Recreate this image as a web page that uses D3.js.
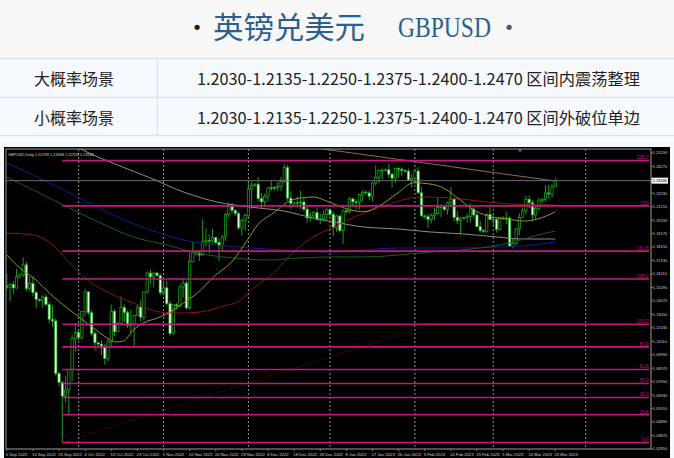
<!DOCTYPE html>
<html><head><meta charset="utf-8">
<script src="https://cdn.jsdelivr.net/npm/d3@7"></script>
<style>html,body{margin:0;padding:0;background:#f6f9fe;overflow:hidden}svg{display:block}</style>
</head><body>
<svg id="c" width="674" height="458"></svg>
<script>
// ---------- data ----------
const titleCN = "英镑兑美元";
const titleEN = "GBPUSD";
const scenarioNames = ["大概率场景", "小概率场景"];
const scenarioTexts = [
  "1.2030-1.2135-1.2250-1.2375-1.2400-1.2470 区间内震荡整理",
  "1.2030-1.2135-1.2250-1.2375-1.2400-1.2470 区间外破位单边"
];
const symbolLabel = "GBPUSD,Daily";

// [date, open, high, low, close]
const candles = [
["2022-09-06",1.1520,1.1612,1.1494,1.1512],["2022-09-07",1.1512,1.1540,1.1406,1.1532],["2022-09-08",1.1532,1.1560,1.1460,1.1505],
["2022-09-09",1.1505,1.1650,1.1500,1.1589],["2022-09-11",1.1589,1.1612,1.1580,1.1605],["2022-09-12",1.1605,1.1738,1.1590,1.1680],
["2022-09-13",1.1680,1.1700,1.1478,1.1500],["2022-09-14",1.1500,1.1590,1.1480,1.1540],["2022-09-15",1.1540,1.1590,1.1445,1.1470],
["2022-09-16",1.1470,1.1480,1.1351,1.1418],["2022-09-18",1.1418,1.1425,1.1400,1.1410],["2022-09-19",1.1410,1.1450,1.1355,1.1437],
["2022-09-20",1.1437,1.1455,1.1370,1.1380],["2022-09-21",1.1380,1.1400,1.1235,1.1268],["2022-09-22",1.1268,1.1370,1.1212,1.1255],
["2022-09-23",1.1255,1.1275,1.0840,1.0858],["2022-09-25",1.0858,1.0870,1.0760,1.0790],["2022-09-26",1.0790,1.0800,1.0333,1.0686],
["2022-09-27",1.0686,1.0840,1.0640,1.0733],["2022-09-28",1.0733,1.0890,1.0539,1.0889],["2022-09-29",1.0889,1.1150,1.0800,1.1120],
["2022-09-30",1.1120,1.1240,1.1020,1.1167],["2022-10-02",1.1167,1.1180,1.1110,1.1130],["2022-10-03",1.1130,1.1330,1.1110,1.1327],
["2022-10-04",1.1327,1.1495,1.1290,1.1476],["2022-10-05",1.1476,1.1480,1.1300,1.1317],["2022-10-06",1.1317,1.1340,1.1140,1.1160],
["2022-10-07",1.1160,1.1180,1.1030,1.1090],["2022-10-09",1.1090,1.1095,1.1060,1.1080],["2022-10-10",1.1080,1.1110,1.0998,1.1056],
["2022-10-11",1.1056,1.1080,1.0924,1.0971],["2022-10-12",1.0971,1.1120,1.0950,1.1097],["2022-10-13",1.1097,1.1380,1.1060,1.1329],
["2022-10-14",1.1329,1.1345,1.1140,1.1173],["2022-10-16",1.1173,1.1250,1.1170,1.1235],["2022-10-17",1.1235,1.1440,1.1220,1.1358],
["2022-10-18",1.1358,1.1380,1.1250,1.1318],["2022-10-19",1.1318,1.1340,1.1200,1.1221],["2022-10-20",1.1221,1.1340,1.1160,1.1233],
["2022-10-21",1.1233,1.1300,1.1060,1.1296],["2022-10-23",1.1296,1.1380,1.1290,1.1360],["2022-10-24",1.1360,1.1410,1.1250,1.1284],
["2022-10-25",1.1284,1.1480,1.1260,1.1475],["2022-10-26",1.1475,1.1630,1.1460,1.1618],["2022-10-27",1.1618,1.1645,1.1540,1.1588],
["2022-10-28",1.1588,1.1620,1.1510,1.1618],["2022-10-30",1.1618,1.1625,1.1590,1.1600],["2022-10-31",1.1600,1.1610,1.1450,1.1469],
["2022-11-01",1.1469,1.1560,1.1450,1.1506],["2022-11-02",1.1506,1.1560,1.1370,1.1386],["2022-11-03",1.1386,1.1410,1.1142,1.1160],
["2022-11-04",1.1160,1.1380,1.1150,1.1378],["2022-11-06",1.1378,1.1390,1.1340,1.1370],["2022-11-07",1.1370,1.1530,1.1360,1.1513],
["2022-11-08",1.1513,1.1580,1.1430,1.1542],["2022-11-09",1.1542,1.1560,1.1340,1.1354],["2022-11-10",1.1354,1.1775,1.1340,1.1706],
["2022-11-11",1.1706,1.1855,1.1700,1.1776],["2022-11-13",1.1776,1.1790,1.1750,1.1770],["2022-11-14",1.1770,1.1790,1.1710,1.1755],
["2022-11-15",1.1755,1.2028,1.1750,1.1855],["2022-11-16",1.1855,1.1955,1.1820,1.1866],["2022-11-17",1.1866,1.1910,1.1765,1.1865],
["2022-11-18",1.1865,1.1950,1.1850,1.1887],["2022-11-20",1.1887,1.1890,1.1840,1.1850],["2022-11-21",1.1850,1.1880,1.1710,1.1825],
["2022-11-22",1.1825,1.1905,1.1780,1.1890],["2022-11-23",1.1890,1.2075,1.1860,1.2060],["2022-11-24",1.2060,1.2154,1.2040,1.2120],
["2022-11-25",1.2120,1.2150,1.2070,1.2094],["2022-11-27",1.2094,1.2100,1.2050,1.2070],["2022-11-28",1.2070,1.2080,1.1945,1.1960],
["2022-11-29",1.1960,1.2030,1.1900,1.2016],["2022-11-30",1.2016,1.2070,1.1940,1.2053],["2022-12-01",1.2053,1.2310,1.2030,1.2254],
["2022-12-02",1.2254,1.2310,1.2105,1.2282],["2022-12-04",1.2282,1.2300,1.2270,1.2290],["2022-12-05",1.2290,1.2345,1.2160,1.2182],
["2022-12-06",1.2182,1.2225,1.2110,1.2158],["2022-12-07",1.2158,1.2220,1.2120,1.2200],["2022-12-08",1.2200,1.2270,1.2160,1.2264],
["2022-12-09",1.2264,1.2320,1.2240,1.2260],["2022-12-11",1.2260,1.2275,1.2245,1.2265],["2022-12-12",1.2265,1.2310,1.2240,1.2274],
["2022-12-13",1.2274,1.2345,1.2240,1.2313],["2022-12-14",1.2313,1.2446,1.2300,1.2418],["2022-12-15",1.2418,1.2440,1.2165,1.2186],
["2022-12-16",1.2186,1.2240,1.2105,1.2145],["2022-12-18",1.2145,1.2160,1.2130,1.2150],["2022-12-19",1.2150,1.2200,1.2120,1.2152],
["2022-12-20",1.2152,1.2240,1.2100,1.2156],["2022-12-21",1.2156,1.2190,1.2085,1.2102],["2022-12-22",1.2102,1.2130,1.2000,1.2035],
["2022-12-23",1.2035,1.2080,1.2010,1.2050],["2022-12-26",1.2050,1.2090,1.2040,1.2075],["2022-12-27",1.2075,1.2110,1.2010,1.2026],
["2022-12-28",1.2026,1.2070,1.1990,1.2027],["2022-12-29",1.2027,1.2090,1.2010,1.2060],["2022-12-30",1.2060,1.2110,1.2020,1.2097],
["2023-01-02",1.2097,1.2110,1.2040,1.2062],["2023-01-03",1.2062,1.2085,1.1900,1.1963],["2023-01-04",1.1963,1.2060,1.1930,1.2050],
["2023-01-05",1.2050,1.2060,1.1925,1.1940],["2023-01-06",1.1940,1.2100,1.1841,1.2090],["2023-01-08",1.2090,1.2100,1.2070,1.2085],
["2023-01-09",1.2085,1.2195,1.2070,1.2180],["2023-01-10",1.2180,1.2190,1.2120,1.2157],["2023-01-11",1.2157,1.2175,1.2100,1.2155],
["2023-01-12",1.2155,1.2215,1.2100,1.2213],["2023-01-13",1.2213,1.2247,1.2160,1.2230],["2023-01-15",1.2230,1.2245,1.2215,1.2225],
["2023-01-16",1.2225,1.2240,1.2170,1.2200],["2023-01-17",1.2200,1.2310,1.2160,1.2300],["2023-01-18",1.2300,1.2435,1.2280,1.2345],
["2023-01-19",1.2345,1.2405,1.2300,1.2395],["2023-01-20",1.2395,1.2410,1.2330,1.2397],["2023-01-22",1.2397,1.2410,1.2385,1.2400],
["2023-01-23",1.2400,1.2448,1.2340,1.2367],["2023-01-24",1.2367,1.2380,1.2265,1.2337],["2023-01-25",1.2337,1.2415,1.2300,1.2410],
["2023-01-26",1.2410,1.2420,1.2340,1.2405],["2023-01-27",1.2405,1.2418,1.2350,1.2395],["2023-01-29",1.2395,1.2405,1.2380,1.2390],
["2023-01-30",1.2390,1.2410,1.2315,1.2324],["2023-01-31",1.2324,1.2370,1.2265,1.2337],["2023-02-01",1.2337,1.2401,1.2300,1.2391],
["2023-02-02",1.2391,1.2420,1.2215,1.2226],["2023-02-03",1.2226,1.2270,1.2048,1.2051],["2023-02-05",1.2051,1.2060,1.2030,1.2045],
["2023-02-06",1.2045,1.2070,1.1961,1.2025],["2023-02-07",1.2025,1.2070,1.1995,1.2055],["2023-02-08",1.2055,1.2110,1.2020,1.2070],
["2023-02-09",1.2070,1.2193,1.2060,1.2115],["2023-02-10",1.2115,1.2140,1.2040,1.2120],["2023-02-12",1.2120,1.2125,1.2085,1.2100],
["2023-02-13",1.2100,1.2160,1.2060,1.2150],["2023-02-14",1.2150,1.2270,1.2120,1.2178],["2023-02-15",1.2178,1.2190,1.2010,1.2040],
["2023-02-16",1.2040,1.2090,1.1990,1.2016],["2023-02-17",1.2016,1.2040,1.1915,1.2035],["2023-02-19",1.2035,1.2045,1.2020,1.2040],
["2023-02-20",1.2040,1.2070,1.2000,1.2045],["2023-02-21",1.2045,1.2145,1.2000,1.2103],["2023-02-22",1.2103,1.2120,1.2030,1.2058],
["2023-02-23",1.2058,1.2075,1.1965,1.1969],["2023-02-24",1.1969,1.2010,1.1925,1.1940],["2023-02-26",1.1940,1.1950,1.1920,1.1935],
["2023-02-27",1.1935,1.2070,1.1920,1.2061],["2023-02-28",1.2061,1.2140,1.2020,1.2023],["2023-03-01",1.2023,1.2070,1.1970,1.2024],
["2023-03-02",1.2024,1.2040,1.1925,1.1950],["2023-03-03",1.1950,1.2040,1.1940,1.2035],["2023-03-05",1.2035,1.2050,1.2020,1.2030],
["2023-03-06",1.2030,1.2080,1.1990,1.2035],["2023-03-07",1.2035,1.2045,1.1820,1.1822],["2023-03-08",1.1822,1.1880,1.1803,1.1841],
["2023-03-09",1.1841,1.1960,1.1830,1.1953],["2023-03-10",1.1953,1.2070,1.1905,1.2040],["2023-03-12",1.2040,1.2110,1.2040,1.2090],
["2023-03-13",1.2090,1.2203,1.2060,1.2177],["2023-03-14",1.2177,1.2205,1.2110,1.2151],["2023-03-15",1.2151,1.2170,1.2010,1.2058],
["2023-03-16",1.2058,1.2125,1.2020,1.2108],["2023-03-17",1.2108,1.2190,1.2090,1.2170],["2023-03-19",1.2170,1.2185,1.2150,1.2175],
["2023-03-20",1.2175,1.2285,1.2160,1.2225],["2023-03-21",1.2225,1.2290,1.2180,1.2217],["2023-03-22",1.2217,1.2290,1.2190,1.2271],
["2023-03-23",1.22709,1.23358,1.22703,1.23180]
];

// moving averages: [bar index, price]
const maYellow = [[0,1.1755],[4,1.1656],[9,1.1565],[13,1.1467],[18.5,1.1353],[22.5,1.1277],[26.5,1.1202],[30.8,1.1126],[33.3,1.1096],[35.7,1.1103],[38.8,1.1187],[41.8,1.1240],[46.1,1.1277],[50.1,1.1323],[54.1,1.1391],[58.4,1.1467],[63.3,1.1588],[69.4,1.1717],[73.7,1.1868],[76.8,1.1982],[81.7,1.2073],[86,1.2156],[90,1.2187],[93.9,1.2194],[99.2,1.2151],[105.3,1.2096],[109.3,1.2083],[114.5,1.2133],[119.7,1.2224],[124.6,1.2302],[127.7,1.2298],[132.9,1.2272],[138.1,1.2187],[142.1,1.2111],[147.3,1.2050],[153.4,1.2027],[158.3,1.2012],[162.6,1.2027],[168,1.2083]];
const maRed = [[0,1.1921],[8.1,1.1906],[13.3,1.1846],[18.5,1.1717],[24.7,1.1565],[29.6,1.1490],[38.8,1.1391],[47,1.1323],[53.2,1.1315],[59.3,1.1323],[65.4,1.1361],[71.6,1.1414],[75.6,1.1505],[81.7,1.1618],[87.8,1.1777],[93.9,1.1891],[100.1,1.1967],[104.4,1.2020],[114.5,1.2118],[126.7,1.2194],[135.9,1.2187],[147.3,1.2156],[154.3,1.2141],[168,1.2133]];
const maGreen = [[0,1.2346],[8.1,1.2247],[18.5,1.2118],[28.7,1.1997],[38.8,1.1891],[49.2,1.1830],[57.2,1.1777],[61.5,1.1755],[69.4,1.1732],[79.8,1.1717],[90,1.1732],[100.1,1.1740],[109.3,1.1740],[129.8,1.1777],[145.1,1.1808],[155.2,1.1853],[162.6,1.1906],[168,1.1936]];
const maBlue = [[0,1.2452],[11.2,1.2323],[23.4,1.2171],[33.9,1.2043],[44,1.1944],[54.1,1.1868],[64.5,1.1830],[74.6,1.1808],[84.8,1.1793],[100.1,1.1777],[119.7,1.1808],[139.9,1.1808],[150.3,1.1815],[158.3,1.1823],[168,1.1853]];
const maGray = [[20,1.2590],[26.5,1.2512],[33.9,1.2437],[44,1.2338],[54.1,1.2232],[64.5,1.2156],[74.6,1.2118],[84.8,1.2088],[95.2,1.2027],[100.1,1.2005],[109.3,1.1967],[119.7,1.1952],[129.8,1.1929],[139.9,1.1914],[150.3,1.1891],[157.4,1.1876],[168,1.1876]];
const trendLine = [[96,1.2561],[168,1.2315]];

// Fibonacci object
const fibAnchors = [[17,1.0333],[130,1.1230]];
const fibLevels = [0, 23.6, 38.2, 50, 61.8, 80.9, 100, 138.2, 161.8, 200, 238.2];
const fibLabels = ["0.0","23.6","38.2","50.0","61.8","80.9","100.0","138.2","161.8","200","238.2"];

// axes
const priceTicks = [1.02850,1.03870,1.04890,1.05910,1.06930,1.07950,1.08970,1.09990,1.11010,1.12030,1.13050,1.14070,1.15090,1.16110,1.17130,1.18150,1.19170,1.20190,1.21210,1.22230,1.23250,1.24270,1.25290];
const dateTickBars = [0,8,16,24,32,40,48,56,64,72,80,88,96,104,112,120,128,136,144,152,160,168];
const dateTickLabels = ["6 Sep 2022","15 Sep 2022","25 Sep 2022","4 Oct 2022","13 Oct 2022","23 Oct 2022","1 Nov 2022","10 Nov 2022","20 Nov 2022","29 Nov 2022","8 Dec 2022","18 Dec 2022","28 Dec 2022","8 Jan 2023","17 Jan 2023","26 Jan 2023","5 Feb 2023","14 Feb 2023","23 Feb 2023","5 Mar 2023","14 Mar 2023","23 Mar 2023"];
const gridBars = [22, 48, 74, 99, 125, 149, 177.3];

// ---------- drawing ----------
const svg = d3.select("#c");
const CJK = "'Noto Sans CJK SC','Noto Sans',sans-serif";
const SMALL = "'Liberation Sans',Arial,sans-serif";

// header
svg.append("rect").attr("x",0).attr("y",0).attr("width",674).attr("height",58).attr("fill","#f7f7f7");
svg.append("rect").attr("x",0).attr("y",58).attr("width",674).attr("height",400).attr("fill","#f6f9fe");
[58.5, 97.5, 135.5].forEach(yy => svg.append("line").attr("x1",0).attr("x2",674).attr("y1",yy).attr("y2",yy).attr("stroke","#dde3ea").attr("stroke-width",1.5));
svg.append("line").attr("x1",157.5).attr("x2",157.5).attr("y1",58).attr("y2",136).attr("stroke","#dde3ea").attr("stroke-width",1.5);

const titleColor = "#2d5f8e";
svg.append("text").attr("x",197).attr("y",34).attr("text-anchor","middle").attr("font-family","'DejaVu Sans',sans-serif").attr("font-size",18).attr("fill","#1b1b2b").text("•");
svg.append("text").attr("x",213).attr("y",38).attr("font-family",CJK).attr("font-size",30).attr("fill",titleColor)
  .attr("textLength",152).attr("lengthAdjust","spacingAndGlyphs").text(titleCN);
svg.append("text").attr("transform","translate(398,37) scale(1,1.2)").attr("x",0).attr("y",0)
  .attr("font-family","'Liberation Serif',serif").attr("font-size",25).attr("fill",titleColor)
  .attr("textLength",93).attr("lengthAdjust","spacingAndGlyphs").text(titleEN);
svg.append("text").attr("x",509).attr("y",34).attr("text-anchor","middle").attr("font-family","'DejaVu Sans',sans-serif").attr("font-size",18).attr("fill","#2d5f8e").text("•");

const rowBase = [85, 123.5];
scenarioNames.forEach((n,i) => {
  svg.append("text").attr("x",74).attr("y",rowBase[i]).attr("text-anchor","middle").attr("font-family",CJK).attr("font-size",16).attr("fill","#222").text(n);
  svg.append("text").attr("x",197).attr("y",rowBase[i]).attr("font-family",CJK).attr("font-size",16).attr("fill","#222")
    .attr("textLength",443).attr("lengthAdjust","spacingAndGlyphs").text(scenarioTexts[i]);
});

// chart
const L = 6, R = 651, T = 149, B = 449;
svg.append("rect").attr("x",4).attr("y",147).attr("width",666).attr("height",311).attr("fill","#000");
const x = d3.scaleLinear().domain([0,168]).range([6.8,555.3]);
const y = d3.scaleLinear().domain([priceTicks[0], priceTicks[priceTicks.length-1]]).range([449,152.8]);

svg.append("defs").append("clipPath").attr("id","plotclip").append("rect").attr("x",L).attr("y",T).attr("width",R-L).attr("height",B-T);
const g = svg.append("g").attr("clip-path","url(#plotclip)");

// grid (period separators)
g.selectAll(".grid").data(gridBars).join("line")
  .attr("x1",d=>x(d)).attr("x2",d=>x(d)).attr("y1",T).attr("y2",B)
  .attr("stroke","#b8b8b8").attr("stroke-width",0.8).attr("stroke-dasharray","2,2");

// candles
const cg = g.append("g");
cg.selectAll(".wick").data(candles).join("line")
  .attr("x1",(d,i)=>x(i)).attr("x2",(d,i)=>x(i)).attr("y1",d=>y(d[2])).attr("y2",d=>y(d[3]))
  .attr("stroke","#1fae1f").attr("stroke-width",0.9);
cg.selectAll(".body").data(candles).join("rect")
  .attr("x",(d,i)=>x(i)-1.15).attr("width",2.3)
  .attr("y",d=>y(Math.max(d[1],d[4])))
  .attr("height",d=>Math.max(0.8, Math.abs(y(d[1])-y(d[4]))))
  .attr("fill",d=> d[4] >= d[1] ? "#000" : "#e4ffe4")
  .attr("stroke","#1fae1f").attr("stroke-width",0.7);

// moving averages
const lineGen = d3.line().x(d=>x(d[0])).y(d=>y(d[1])).curve(d3.curveMonotoneX);
const maSets = [[maGray,"#8c8c8c"],[maBlue,"#1a1a96"],[maGreen,"#1c5c1c"],[maRed,"#8e1414"],[maYellow,"#9a9420"]];
maSets.forEach(([data,col]) => g.append("path").attr("d",lineGen(data)).attr("fill","none").attr("stroke",col).attr("stroke-width",1));
g.append("path").attr("d",d3.line().x(d=>x(d[0])).y(d=>y(d[1]))(trendLine)).attr("fill","none").attr("stroke","#8c6c52").attr("stroke-width",1);

// bid line
const last = candles[candles.length-1];
g.append("line").attr("x1",L).attr("x2",R).attr("y1",y(last[4])).attr("y2",y(last[4])).attr("stroke","#6c6c76").attr("stroke-width",1);

// fibonacci
const fibRange = fibAnchors[1][1] - fibAnchors[0][1];
const fibPrice = lv => fibAnchors[0][1] + fibRange*lv/100;
g.append("line").attr("x1",x(fibAnchors[0][0])).attr("y1",y(fibAnchors[0][1])).attr("x2",x(fibAnchors[1][0])).attr("y2",y(fibAnchors[1][1]))
  .attr("stroke","#9a1010").attr("stroke-width",0.9).attr("stroke-dasharray","1,2");
g.selectAll(".fib").data(fibLevels).join("line")
  .attr("x1",x(fibAnchors[0][0])).attr("x2",R-2).attr("y1",d=>y(fibPrice(d))).attr("y2",d=>y(fibPrice(d)))
  .attr("stroke","#c8167f").attr("stroke-width",1.6);
g.selectAll(".fibt").data(fibLevels).join("text")
  .attr("x",648.5).attr("y",d=>y(fibPrice(d))-1.2).attr("text-anchor","end")
  .attr("font-family",SMALL).attr("font-size",4.6).attr("fill","#c8167f")
  .text((d,i)=>fibLabels[i]);

// info text and chart-shift marker
svg.append("text").attr("x",8).attr("y",155.5).attr("font-family",SMALL).attr("font-size",4.4).attr("fill","#d8d8d8")
  .attr("textLength",86).attr("lengthAdjust","spacingAndGlyphs")
  .text(symbolLabel + "  " + [1,2,3,4].map(k=>d3.format(".5f")(last[k])).join(" "));
svg.append("path").attr("d","M518,149.5 L522,149.5 L520,152 Z").attr("fill","#8a8a8a");

// frame & axes
svg.append("rect").attr("x",L).attr("y",T).attr("width",R-L).attr("height",B-T).attr("fill","none").attr("stroke","#9c9c9c").attr("stroke-width",1);

const lastY = y(last[4]);
priceTicks.forEach(p => {
  const yy = y(p);
  svg.append("line").attr("x1",R).attr("x2",R+2).attr("y1",yy).attr("y2",yy).attr("stroke","#9c9c9c").attr("stroke-width",0.7);
  if (Math.abs(yy - lastY) > 5) {
    svg.append("text").attr("x",652.8).attr("y",yy+1.4).attr("font-family",SMALL).attr("font-size",4).attr("fill","#cfcfcf").text(d3.format(".5f")(p));
  }
});
svg.append("rect").attr("x",651.5).attr("y",lastY-3).attr("width",16.5).attr("height",6).attr("fill","#f4f4f4");
svg.append("text").attr("x",652.8).attr("y",lastY+1.5).attr("font-family",SMALL).attr("font-size",4).attr("fill","#000").text(d3.format(".5f")(last[4]));

dateTickBars.forEach((b,i) => {
  const xx = x(b);
  svg.append("line").attr("x1",xx).attr("x2",xx).attr("y1",B).attr("y2",B+2).attr("stroke","#9c9c9c").attr("stroke-width",0.7);
  svg.append("text").attr("x",xx-0.8).attr("y",455.6).attr("font-family",SMALL).attr("font-size",4.2).attr("fill","#cfcfcf").text(dateTickLabels[i]);
});
</script>
</body></html>
